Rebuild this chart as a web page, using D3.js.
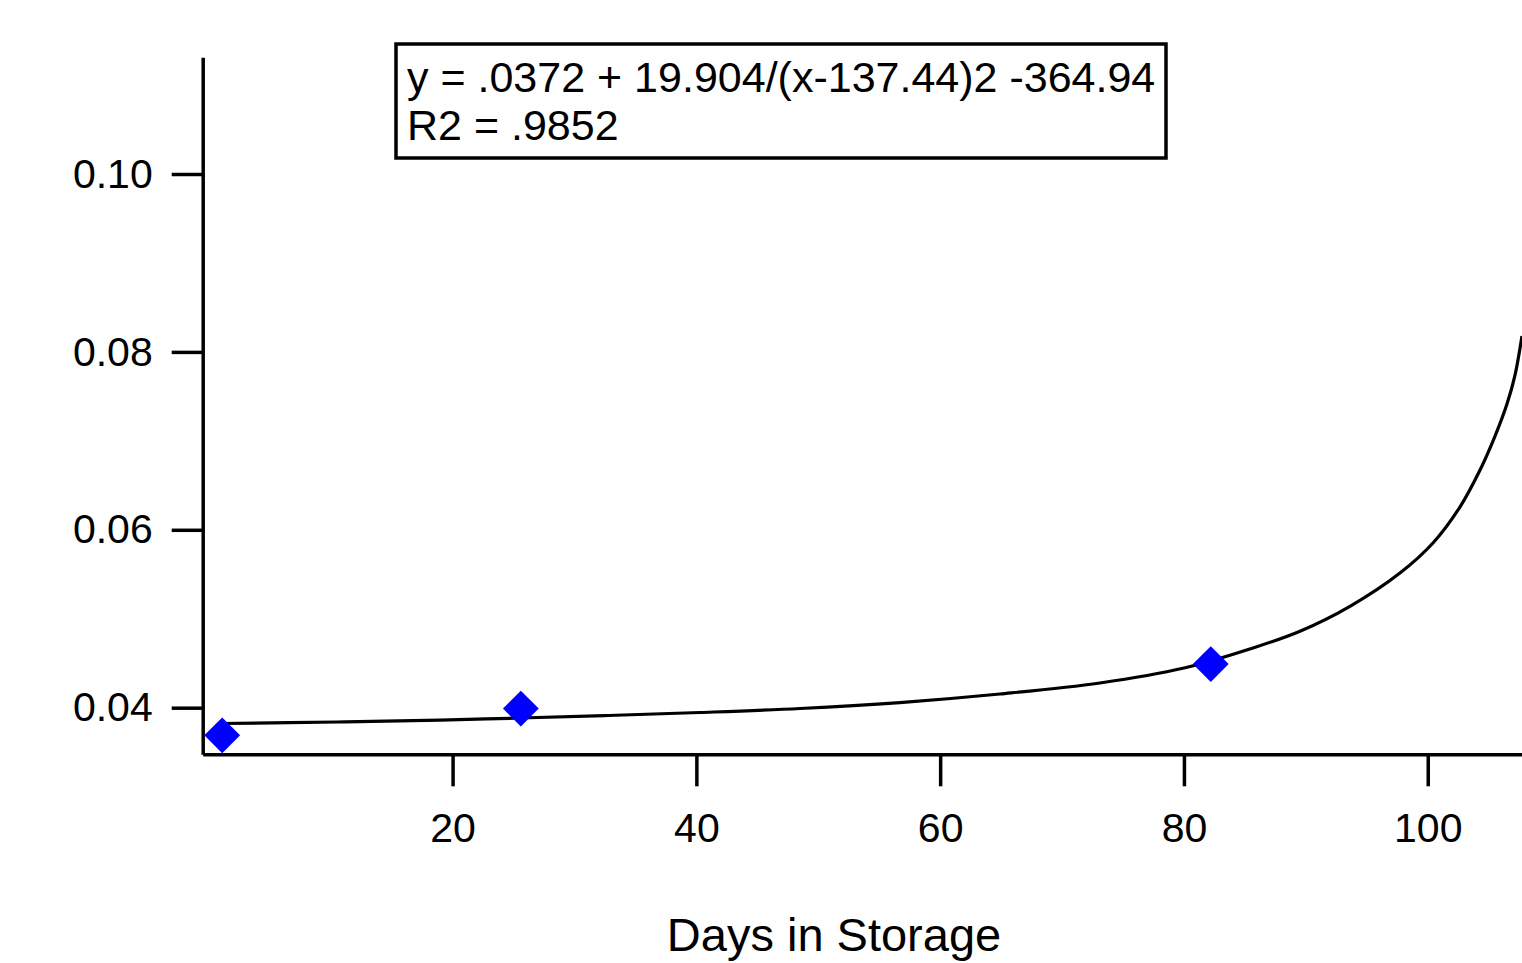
<!DOCTYPE html>
<html>
<head>
<meta charset="utf-8">
<script src="https://cdn.jsdelivr.net/npm/d3@7"></script>
<style>
  html, body { margin: 0; padding: 0; background: #fff; overflow: hidden; }
  text { font-family: "Liberation Sans", Arial, sans-serif; fill: #000; }
</style>
</head>
<body>
<svg id="my_svg"></svg>
<script>
const width = 1522;
const height = 963;

// measured points
const days = [1.1, 25.6, 82.2];
const values = [0.0369, 0.0399, 0.0449];

// fitted curve
const fitDays = [1.08, 10.52, 18.97, 25.53, 32.75, 40.30, 48.50, 56.70, 64.91, 73.11,
    80.01, 85.40, 89.52, 93.62, 97.72, 100.43, 102.64, 104.29, 105.52, 106.50,
    107.16, 107.73];
const fitValues = [0.03822, 0.03839, 0.03861, 0.03884, 0.03912, 0.03946, 0.03991, 0.04058, 0.04154, 0.04278,
    0.04446, 0.04660, 0.04860, 0.05140, 0.05514, 0.05852, 0.06256, 0.06672, 0.07054, 0.07414,
    0.07740, 0.08179];

const xTicks = [20, 40, 60, 80, 100];
const yTicks = [0.04, 0.06, 0.08, 0.10];

const fitText = ['y = .0372 + 19.904/(x-137.44)2 -364.94', 'R2 = .9852'];
const xTitle = 'Days in Storage';

const svg = d3.select('#my_svg')
    .attr('width', width)
    .attr('height', height);

const x = d3.scaleLinear()
    .domain([-0.5, 108.8])
    .range([202.7, 1535]);

const y = d3.scaleLinear()
    .domain([0.03476, 0.11312])
    .range([754.3, 57.3]);

// axes
const xAxis = svg.append('g')
    .attr('transform', `translate(0, ${y.range()[0]})`)
    .call(d3.axisBottom(x)
        .tickValues(xTicks)
        .tickSize(32)
        .tickSizeOuter(0)
        .tickPadding(27)
        .tickFormat(d3.format('d')));

const yAxis = svg.append('g')
    .attr('transform', `translate(${x.range()[0]}, 0)`)
    .call(d3.axisLeft(y)
        .tickValues(yTicks)
        .tickSize(31)
        .tickSizeOuter(0)
        .tickPadding(19)
        .tickFormat(d3.format('.2f')));

for (const g of [xAxis, yAxis]) {
    g.selectAll('path, line')
        .attr('stroke', '#000')
        .attr('stroke-width', 3.5);
    g.selectAll('text')
        .attr('font-size', 41)
        .attr('font-family', '"Liberation Sans", Arial, sans-serif')
        .attr('fill', '#000');
}

// fitted line
const fitData = fitDays.map((d, i) => ({ x: d, y: fitValues[i] }));
svg.append('path')
    .datum(fitData)
    .attr('fill', 'none')
    .attr('stroke', '#000')
    .attr('stroke-width', 3.2)
    .attr('d', d3.line()
        .x(d => x(d.x))
        .y(d => y(d.y))
        .curve(d3.curveCatmullRom.alpha(0.5)));

// blue diamonds
svg.append('g')
    .selectAll('path')
    .data(days.map((d, i) => ({ x: d, y: values[i] })))
    .enter().append('path')
    .attr('transform', d => `translate(${x(d.x)}, ${y(d.y)}) rotate(45)`)
    .attr('d', d3.symbol(d3.symbolSquare, 640))
    .attr('fill', '#0000ff');

// equation box
const box = svg.append('g');
box.append('rect')
    .attr('x', 396)
    .attr('y', 44)
    .attr('width', 770)
    .attr('height', 114)
    .attr('fill', '#fff')
    .attr('stroke', '#000')
    .attr('stroke-width', 3.5);
box.selectAll('text')
    .data(fitText)
    .enter().append('text')
    .attr('x', 407)
    .attr('y', (d, i) => 92 + i * 48)
    .attr('font-size', 43)
    .text(d => d);

// axis title
svg.append('text')
    .attr('x', 834)
    .attr('y', 951)
    .attr('text-anchor', 'middle')
    .attr('font-size', 47)
    .text(xTitle);
</script>
</body>
</html>
